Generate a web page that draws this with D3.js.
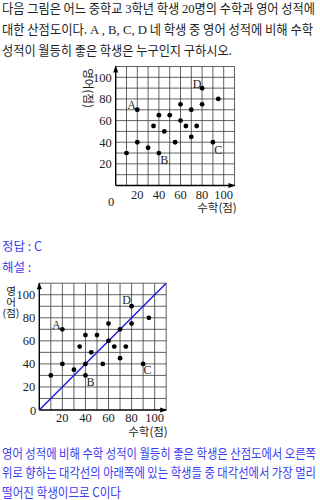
<!DOCTYPE html>
<html>
<head>
<meta charset="utf-8">
<script src="https://cdn.jsdelivr.net/npm/d3@7"></script>
<style>
  body { margin: 0; background: #fff; }
  svg { display: block; }
  .kr { font-family: "Noto Sans CJK KR", sans-serif; }
  .num { font-family: "Liberation Serif", "DejaVu Serif", serif; }
</style>
</head>
<body>
<div id="chart"></div>
<script>
// scores, first scatter (20 students)
var math1 = [10, 20, 20, 30, 35, 40, 40, 45, 50, 55, 60, 60, 65, 70, 70, 75, 80, 80, 90, 95];
var eng1  = [30, 40, 70, 35, 55, 30, 65, 50, 65, 40, 75, 60, 55, 70, 45, 55, 75, 90, 40, 80];
// second scatter in the solution
var math2 = [10, 20, 20, 30, 35, 40, 40, 40, 45, 50, 55, 60, 60, 65, 70, 70, 75, 80, 80, 90, 95];
var eng2  = [30, 40, 70, 35, 55, 30, 40, 65, 50, 65, 40, 75, 60, 55, 70, 45, 55, 75, 90, 40, 80];
var tickVals = [20, 40, 60, 80, 100];
var names = ['A', 'B', 'C', 'D'];
var nameMath = [20, 40, 90, 80];
var nameEng  = [70, 30, 40, 90];
var blue = '#3b3bef';

var svg = d3.select('#chart').append('svg')
  .attr('width', 320).attr('height', 500);

svg.append('rect').attr('width', 320).attr('height', 500).attr('fill', '#fff');

// one line of paragraph text, stretched to the reference width
function line(y, parts, len, color) {
  var t = svg.append('text')
    .attr('x', 2).attr('y', y)
    .attr('font-size', 13)
    .attr('fill', color || '#222')
    .attr('textLength', len)
    .attr('lengthAdjust', 'spacingAndGlyphs');
  parts.forEach(function(p) {
    t.append('tspan')
      .attr('class', p[1] ? 'num' : 'kr')
      .attr('font-size', p[1] ? 13.5 : 13)
      .text(p[0]);
  });
}
line(13, [['다음 그림은 어느 중학교 '], ['3', 1], ['학년 학생 '], ['20', 1], ['명의 수학과 영어 성적에']], 313);
line(34, [['대한 산점도이다. '], ['A , B, C, D', 1], ['  네 학생 중 영어 성적에 비해 수학']], 311);
line(55, [['성적이 월등히 좋은 학생은 누구인지 구하시오.']], 230);

function scatter(opt) {
  var x = d3.scaleLinear().domain([0, 110]).range([opt.x0, opt.x1]);
  var y = d3.scaleLinear().domain([0, 110]).range([opt.y0, opt.y1]);
  var g = svg.append('g');
  var grid = d3.range(10, 111, 10);

  g.selectAll('line.vx').data(grid).enter().append('line')
    .attr('x1', function(d) { return x(d); }).attr('x2', function(d) { return x(d); })
    .attr('y1', y(0)).attr('y2', y(110))
    .attr('stroke', '#3a3a3a').attr('stroke-width', 0.8);
  g.selectAll('line.hy').data(grid).enter().append('line')
    .attr('y1', function(d) { return y(d); }).attr('y2', function(d) { return y(d); })
    .attr('x1', x(0)).attr('x2', x(110))
    .attr('stroke', '#3a3a3a').attr('stroke-width', 0.8);

  // axes with arrows
  g.append('line').attr('x1', x(0)).attr('x2', x(110)).attr('y1', y(0)).attr('y2', y(0))
    .attr('stroke', '#000').attr('stroke-width', 1.4);
  g.append('line').attr('x1', x(0)).attr('x2', x(0)).attr('y1', y(0)).attr('y2', y(110))
    .attr('stroke', '#000').attr('stroke-width', 1.4);
  g.append('path')
    .attr('d', 'M' + (x(110) + 1) + ',' + y(0) + 'l-7,-2.5l0,5z').attr('fill', '#000');
  g.append('path')
    .attr('d', 'M' + x(0) + ',' + (y(110) - 1) + 'l-2.5,7l5,0z').attr('fill', '#000');

  if (opt.diag) {
    g.append('line').attr('x1', x(0)).attr('y1', y(0)).attr('x2', x(110)).attr('y2', y(110))
      .attr('stroke', '#1f1fe0').attr('stroke-width', 1.5);
  }

  // tick labels
  g.selectAll('text.xt').data(tickVals).enter().append('text')
    .attr('class', 'num').attr('font-size', 12.5).attr('fill', '#222')
    .attr('text-anchor', 'middle')
    .attr('x', function(d) { return x(d); }).attr('y', y(0) + opt.xtOff)
    .text(function(d) { return d; });
  g.selectAll('text.yt').data(tickVals).enter().append('text')
    .attr('class', 'num').attr('font-size', 12.5).attr('fill', '#222')
    .attr('text-anchor', 'end')
    .attr('x', x(0) - 4).attr('y', function(d) { return y(d) + 4.5; })
    .text(function(d) { return d; });
  g.append('text').attr('class', 'num').attr('font-size', 12.5).attr('fill', '#222')
    .attr('text-anchor', 'middle')
    .attr('x', opt.zero[0]).attr('y', opt.zero[1]).text('0');

  // points
  g.selectAll('circle').data(opt.mx).enter().append('circle')
    .attr('cx', function(d) { return x(d); })
    .attr('cy', function(d, i) { return y(opt.ey[i]); })
    .attr('r', 2.4).attr('fill', '#000');

  // student names
  g.selectAll('text.nm').data(names).enter().append('text')
    .attr('class', 'num').attr('font-size', 12).attr('fill', '#222')
    .attr('text-anchor', 'middle')
    .attr('x', function(d, i) { return x(nameMath[i]) + opt.nameOff[i][0]; })
    .attr('y', function(d, i) { return y(nameEng[i]) + opt.nameOff[i][1] + 4; })
    .text(function(d) { return d; });

  return { x: x, y: y, g: g };
}

var c1 = scatter({
  x0: 115.7, x1: 234.5, y0: 185.5, y1: 66.5,
  mx: math1, ey: eng1, xtOff: 13, zero: [111, 206],
  nameOff: [[-5.6, -5], [5.4, 7], [5.4, 7.6], [-5, -4]]
});
c1.g.append('text').attr('class', 'kr').attr('font-size', 11.5).attr('fill', '#222')
  .attr('text-anchor', 'middle')
  .attr('transform', 'translate(84,88) rotate(90)').text('영어(점)');
c1.g.append('text').attr('class', 'kr').attr('font-size', 11.5).attr('fill', '#222')
  .attr('text-anchor', 'middle').attr('x', 217).attr('y', 212).text('수학(점)');

// answer
svg.append('text').attr('class', 'kr').attr('x', 2).attr('y', 251).attr('font-size', 12.5)
  .attr('fill', blue).text('정답 : C');
svg.append('text').attr('class', 'kr').attr('x', 2).attr('y', 272).attr('font-size', 12.5)
  .attr('fill', blue).text('해설 :');

var c2 = scatter({
  x0: 39.3, x1: 166.2, y0: 410, y1: 283.2,
  mx: math2, ey: eng2, xtOff: 12, zero: [33, 414.5], diag: true,
  nameOff: [[-6, -4], [5, 7], [4.5, 6], [-5, -6]]
});
['영', '어', '(점)'].forEach(function(s, i) {
  c2.g.append('text').attr('class', 'kr').attr('font-size', 10.5).attr('fill', '#222')
    .attr('text-anchor', 'middle').attr('x', 11).attr('y', 294.5 + i * 11.2).text(s);
});
c2.g.append('text').attr('class', 'kr').attr('font-size', 11.5).attr('fill', '#222')
  .attr('text-anchor', 'middle').attr('x', 148).attr('y', 436).text('수학(점)');

line(458, [['영어 성적에 비해 수학 성적이 월등히 좋은 학생은 산점도에서 오른쪽']], 314, blue);
line(477, [['위로 향하는 대각선의 아래쪽에 있는 학생들 중 대각선에서 가장 멀리']], 314, blue);
line(497, [['떨어진 학생이므로 C이다']], 119, blue);
</script>
</body>
</html>
